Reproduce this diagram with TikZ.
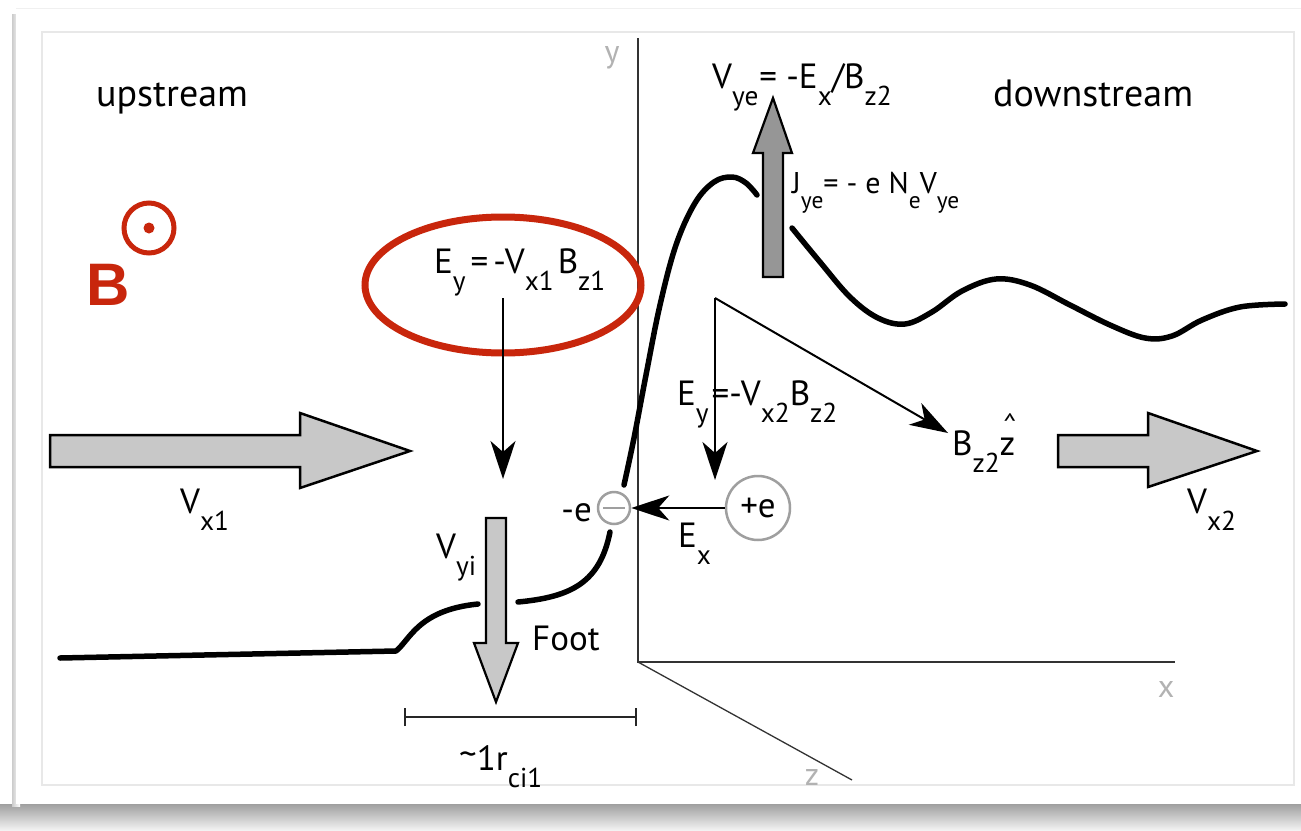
\documentclass[tikz,border=0pt]{standalone}
\usepackage{fontspec}
\usepackage{graphicx}
\setmainfont{PT Sans}
\newfontfamily\bfam{Liberation Sans}
\usetikzlibrary{arrows.meta,shapes.geometric}
\definecolor{myred}{RGB}{200,38,12}
\definecolor{lightarr}{RGB}{200,200,200}
\definecolor{darkarr}{RGB}{150,150,150}
\newcommand{\lo}[1]{\raisebox{-0.5em}{\scalebox{0.78}{#1}}}
\newcommand{\zhat}{\makebox[0pt][l]{\raisebox{0.62em}{\kern0.1em\scalebox{0.8}{\textasciicircum}}}z}
\begin{document}
\begin{tikzpicture}[x=1pt,y=-1pt,
  lbl/.style={font=\fontsize{35}{40}\selectfont, inner sep=0pt},
  biglbl/.style={font=\fontsize{38}{42}\selectfont, inner sep=0pt},
  smalllbl/.style={font=\fontsize{30}{34}\selectfont, inner sep=0pt},
  axlbl/.style={font=\fontsize{32}{36}\selectfont, text=gray!60, inner sep=0pt},
  thinarrow/.style={line width=2, -{Stealth[length=38, width=25, inset=11]}},
  axis/.style={line width=1.3, draw=black!80},
  curve/.style={line width=5.5, line cap=round, line join=round},
  bigarrow/.style={draw=black, line width=2.5, line join=miter, fill=lightarr},
  charge/.style={circle, draw=gray!75, line width=2.5, inner sep=0pt},
]
\useasboundingbox (0,0) rectangle (1301,830);
% card and shadow
\shade[top color=gray!75, bottom color=gray!10] (0,804) rectangle (1301,830);
\shade[left color=gray!40, right color=white] (12,14) rectangle (20,806);
\fill[white] (16,8) rectangle (1301,804);
\draw[gray!12, line width=1] (16,8) -- (1301,8);
\draw[gray!18, line width=1.5] (42,32) rectangle (1294,785);

% axes
\coordinate (O) at (638,662);
\coordinate (ytop) at (638,38);
\coordinate (xend) at (1175,662);
\coordinate (zend) at (852,780);
\draw[axis] (ytop) -- (O) -- (xend);
\draw[axis] (O) -- (zend);
\node[axlbl, anchor=base] (ylab) at (612,62) {y};
\node[axlbl, anchor=base] (xlab) at (1166,697) {x};
\node[axlbl, anchor=base] (zlab) at (812,785) {z};

% region labels
\node[biglbl, anchor=base west] (up) at (96,106) {upstream};
\node[biglbl, anchor=base west] (down) at (993,106) {downstream};

% B field symbol
\node[text=myred, font=\bfam\bfseries\fontsize{60}{64}\selectfont, inner sep=0pt, anchor=base west] (B) at (86,305) {B};
\node[circle, draw=myred, line width=5, minimum size=50, inner sep=0pt] (Bcirc) at (149,228) {};
\fill[myred] (Bcirc.center) circle (5.5);

% red ellipse with upstream E_y
\node[ellipse, draw=myred, line width=7, minimum width=276, minimum height=136, inner sep=0pt] (ell) at (503,285) {};
\node[lbl, anchor=base west] (ey1) at (434,273) {E\lo{y}\kern5pt=\kern5pt-V\lo{x1}\kern4pt B\lo{z1}};
\coordinate (ey1top) at (503,298);
\coordinate (ey1tip) at (503,479);
\draw[thinarrow] (ey1top) -- (ey1tip);

% V_x1 arrow
\draw[bigarrow] (50,435) -- (300,435) -- (300,413) -- (410,451) -- (300,488) -- (300,467) -- (50,467) -- cycle;
\node[lbl, anchor=base west] (vx1) at (180,513) {V\lo{x1}};

% V_x2 arrow
\draw[bigarrow] (1058,435) -- (1148,435) -- (1148,413) -- (1257,451) -- (1148,487) -- (1148,467) -- (1058,467) -- cycle;
\node[lbl, anchor=base west] (vx2) at (1187,513) {V\lo{x2}};

% V_yi arrow
\draw[bigarrow, line width=2.2] (486,518) -- (506,518) -- (506,643) -- (518,643) -- (496,702) -- (474,643) -- (486,643) -- cycle;
\node[lbl, anchor=base west] (vyi) at (436,558) {V\lo{yi}};
\node[lbl, anchor=base west] (foot) at (532,650) {Foot};

% scale bar
\coordinate (sbl) at (405,717);
\coordinate (sbr) at (636,717);
\draw[line width=2, draw=black!85] (sbl) -- (sbr);
\draw[line width=2, draw=black!85] ([yshift=-9]sbl) -- ([yshift=9]sbl);
\draw[line width=2, draw=black!85] ([yshift=-9]sbr) -- ([yshift=9]sbr);
\node[lbl, anchor=base west] (rci) at (459,770) {\raisebox{0.1em}{\textasciitilde}1r\lo{ci1}};

% upward V_ye arrow
\draw[bigarrow, fill=darkarr, line width=2.2] (763,277) -- (763,153) -- (753,153) -- (773,98) -- (792,153) -- (783,153) -- (783,277) -- cycle;
\node[lbl, anchor=base west] (vye) at (712,88) {V\lo{ye}\kern1pt= -E\lo{x}/B\lo{z2}};
\node[smalllbl, anchor=base west] (jye) at (792,193) {J\lo{ye}= - e N\lo{e}\kern-1pt V\lo{ye}};

% shock curve
\draw[curve] (60,658) -- (396,651) .. controls (410,640) and (418,610) .. (478,604);
\draw[curve] (518,602) .. controls (572,597) and (600,582) .. (610,532);
\draw[curve] plot[smooth, tension=0.6] coordinates {(624,485) (634,438) (646,375) (660,305) (676,245) (695,203) (714,182) (732,177) (746,183) (757,195)};
\draw[curve] plot[smooth, tension=0.6] coordinates {(792,228) (820,262) (850,297) (878,318) (905,324) (932,312) (962,291) (996,279) (1030,285) (1070,305) (1110,325) (1145,338) (1172,336) (1202,320) (1240,307) (1285,304)};

% downstream fields
\coordinate (corner) at (715,298);
\coordinate (ey2tip) at (715,480);
\coordinate (bztip) at (948,433);
\draw[thinarrow] (corner) -- (ey2tip);
\draw[thinarrow] (corner) -- (bztip);
\node[lbl, anchor=base west] (ey2) at (677,405) {E\lo{y}\kern3pt=-V\lo{x2}B\lo{z2}};
\node[lbl, anchor=base west] (bz2) at (952,455) {B\lo{z2}\zhat};

% charges
\node[charge, minimum size=64] (pe) at (758,508) {};
\node[lbl] (pelab) at (758,508) {+e};
\node[charge, minimum size=32] (me) at (614,508) {};
\draw[gray!75, line width=2] ([xshift=-11]me.center) -- ([xshift=11]me.center);
\node[lbl, anchor=base east] (melab) at (592,521) {-e};
\draw[thinarrow] (pe.west) -- (me.east);
\node[lbl, anchor=base west] (ex) at (678,547) {E\lo{x}};
\end{tikzpicture}
\end{document}
